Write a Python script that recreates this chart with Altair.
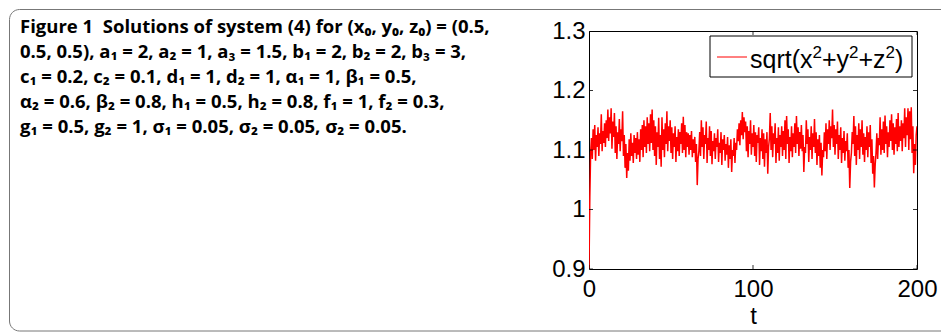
import altair as alt
import pandas as pd

norm_values = [
    0.900, 1.020, 1.095, 1.120, 1.085, 1.135, 1.100, 1.142, 1.082, 1.125, 1.105, 1.138, 1.090, 1.128, 1.110, 1.160, 1.098, 1.132, 1.112, 1.145,
    1.105, 1.150, 1.120, 1.168, 1.115, 1.155, 1.128, 1.170, 1.102, 1.148, 1.122, 1.162, 1.095, 1.140, 1.085, 1.130, 1.110, 1.152, 1.098, 1.135,
    1.115, 1.165, 1.090, 1.125, 1.070, 1.110, 1.053, 1.095, 1.065, 1.118, 1.082, 1.128, 1.090, 1.112, 1.078, 1.125, 1.095, 1.120, 1.085, 1.130,
    1.092, 1.118, 1.080, 1.135, 1.100, 1.142, 1.088, 1.150, 1.105, 1.140, 1.095, 1.155, 1.110, 1.145, 1.098, 1.160, 1.112, 1.168, 1.100, 1.150,
    1.090, 1.140, 1.075, 1.130, 1.105, 1.154, 1.085, 1.125, 1.072, 1.155, 1.100, 1.135, 1.088, 1.145, 1.110, 1.165, 1.098, 1.140, 1.115, 1.150,
    1.095, 1.138, 1.085, 1.128, 1.105, 1.140, 1.080, 1.122, 1.098, 1.135, 1.090, 1.130, 1.110, 1.145, 1.095, 1.156, 1.100, 1.142, 1.088, 1.130,
    1.105, 1.128, 1.092, 1.125, 1.100, 1.132, 1.088, 1.118, 1.095, 1.122, 1.080, 1.110, 1.041, 1.085, 1.098, 1.130, 1.090, 1.150, 1.105, 1.138,
    1.085, 1.125, 1.110, 1.148, 1.078, 1.120, 1.100, 1.140, 1.090, 1.132, 1.076, 1.115, 1.098, 1.128, 1.085, 1.120, 1.105, 1.135, 1.080, 1.112,
    1.095, 1.130, 1.075, 1.118, 1.100, 1.125, 1.082, 1.110, 1.092, 1.122, 1.070, 1.108, 1.085, 1.118, 1.063, 1.100, 1.090, 1.120, 1.078, 1.112,
    1.100, 1.135, 1.115, 1.145, 1.108, 1.150, 1.125, 1.164, 1.118, 1.155, 1.130, 1.148, 1.098, 1.140, 1.088, 1.132, 1.110, 1.150, 1.092, 1.128,
    1.105, 1.142, 1.090, 1.130, 1.080, 1.125, 1.112, 1.138, 1.075, 1.120, 1.098, 1.135, 1.085, 1.128, 1.072, 1.118, 1.095, 1.130, 1.060, 1.105,
    1.120, 1.162, 1.100, 1.140, 1.088, 1.128, 1.110, 1.145, 1.078, 1.120, 1.095, 1.138, 1.082, 1.125, 1.105, 1.140, 1.090, 1.132, 1.100, 1.150,
    1.085, 1.157, 1.110, 1.135, 1.078, 1.122, 1.098, 1.140, 1.088, 1.128, 1.105, 1.145, 1.095, 1.157, 1.110, 1.138, 1.090, 1.130, 1.102, 1.142,
    1.098, 1.125, 1.063, 1.105, 1.095, 1.150, 1.110, 1.135, 1.080, 1.122, 1.100, 1.140, 1.085, 1.128, 1.105, 1.152, 1.095, 1.130, 1.075, 1.118,
    1.090, 1.125, 1.070, 1.112, 1.057, 1.100, 1.088, 1.130, 1.098, 1.145, 1.085, 1.135, 1.110, 1.150, 1.100, 1.140, 1.120, 1.168, 1.105, 1.142,
    1.092, 1.135, 1.110, 1.148, 1.085, 1.125, 1.100, 1.138, 1.078, 1.120, 1.095, 1.132, 1.082, 1.115, 1.098, 1.128, 1.070, 1.100, 1.036, 1.080,
    1.095, 1.130, 1.110, 1.157, 1.090, 1.140, 1.075, 1.125, 1.100, 1.145, 1.085, 1.135, 1.105, 1.150, 1.092, 1.128, 1.080, 1.122, 1.100, 1.140,
    1.088, 1.130, 1.105, 1.142, 1.078, 1.118, 1.060, 1.090, 1.037, 1.075, 1.095, 1.128, 1.085, 1.120, 1.108, 1.155, 1.092, 1.135, 1.100, 1.148,
    1.095, 1.158, 1.110, 1.140, 1.088, 1.130, 1.105, 1.150, 1.115, 1.160, 1.100, 1.145, 1.092, 1.138, 1.110, 1.152, 1.098, 1.162, 1.105, 1.140,
    1.115, 1.150, 1.098, 1.145, 1.120, 1.170, 1.105, 1.155, 1.125, 1.170, 1.100, 1.165, 1.118, 1.172, 1.095, 1.140, 1.061, 1.110, 1.075, 1.125,
    1.140,
]
t_step = 0.5
t_values = [i * t_step for i in range(len(norm_values))]

x_ticks = [0, 100, 200]
y_ticks = [0.9, 1.0, 1.1, 1.2, 1.3]
x_domain = [0, 200]
y_domain = [0.9, 1.3]

# legend label pieces: (text, is_superscript)
legend_parts = [("sqrt(x", False), ("2", True), ("+y", False), ("2", True),
                ("+z", False), ("2", True), (")", False)]
caption_lines = [
    "Figure 1\u00a0\u00a0Solutions of system (4) for (x₀, y₀, z₀) = (0.5,",
    "0.5, 0.5), a₁ = 2, a₂ = 1, a₃ = 1.5, b₁ = 2, b₂ = 2, b₃ = 3,",
    "c₁ = 0.2, c₂ = 0.1, d₁ = 1, d₂ = 1, α₁ = 1, β₁ = 0.5,",
    "α₂ = 0.6, β₂ = 0.8, h₁ = 0.5, h₂ = 0.8, f₁ = 1, f₂ = 0.3,",
    "g₁ = 0.5, g₂ = 1, σ₁ = 0.05, σ₂ = 0.05, σ₂ = 0.05.",
]

# ---- layout ----
W, H = 328, 238
PAD_L, PAD_T = 581, 23
AX_FONT = "Liberation Sans"

df = pd.DataFrame({"t": t_values, "v": norm_values})
one = pd.DataFrame({"a": [0]})

X = alt.X("t:Q", scale=alt.Scale(domain=x_domain, nice=False),
          axis=alt.Axis(values=x_ticks, title="t", ticks=False, domain=False, grid=False,
                        labelFont=AX_FONT, labelFontSize=24, labelColor="black",
                        labelPadding=8, labelFlush=False,
                        titleFont=AX_FONT, titleFontSize=24, titleFontWeight="normal",
                        titleColor="black", titlePadding=3))
Y = alt.Y("v:Q", scale=alt.Scale(domain=y_domain, nice=False, zero=False),
          axis=alt.Axis(values=y_ticks, title=None, ticks=False, domain=False, grid=False,
                        format="~g", labelFont=AX_FONT, labelFontSize=24, labelColor="black",
                        labelPadding=4, labelFlush=False))

line = alt.Chart(df).mark_line(color="#ff0000", strokeWidth=1.5, clip=True).encode(x=X, y=Y)

xt = pd.DataFrame({"t": x_ticks})
yt = pd.DataFrame({"v": y_ticks})
tick_style = dict(color="black", thickness=1, size=8, clip=True, opacity=0.8)
ticks = [
    alt.Chart(xt).mark_tick(orient="vertical", **tick_style).encode(x=X, y=alt.value(H)),
    alt.Chart(xt).mark_tick(orient="vertical", **tick_style).encode(x=X, y=alt.value(0)),
    alt.Chart(yt).mark_tick(orient="horizontal", **tick_style).encode(y=Y, x=alt.value(0)),
    alt.Chart(yt).mark_tick(orient="horizontal", **tick_style).encode(y=Y, x=alt.value(W)),
]

# legend box (manual, MATLAB style)
leg_box = alt.Chart(one).mark_rect(fill="white", stroke="black", strokeWidth=1).encode(
    x=alt.value(121), x2=alt.value(323), y=alt.value(5), y2=alt.value(46))
leg_line = alt.Chart(one).mark_rule(color="#ff0000", strokeWidth=1).encode(
    x=alt.value(128), x2=alt.value(158), y=alt.value(26))

# Arial/Liberation Sans advance widths (em) for the legend glyphs
adv = {"s": .5, "q": .556, "r": .333, "t": .278, "(": .333, ")": .333, "x": .5,
       "y": .5, "z": .5, "+": .584, "2": .556}
MAIN_FS, SUP_FS = 25, 17
leg_layers = []
cx = 161.0
for txt, sup in legend_parts:
    fs = SUP_FS if sup else MAIN_FS
    leg_layers.append(
        alt.Chart(one).mark_text(align="left", baseline="alphabetic", font=AX_FONT,
                                 fontSize=fs, color="black").encode(
            x=alt.value(cx), y=alt.value(27 if sup else 37), text=alt.value(txt)))
    cx += sum(adv[c] for c in txt) * fs

# outer rounded border of the figure panel
border = alt.Chart(one).mark_rect(fillOpacity=0, stroke="#777777", strokeWidth=1,
                                  cornerRadius=10).encode(
    x=alt.value(9 - 8 - PAD_L + 0.5), x2=alt.value(500), y=alt.value(9 - 8 - PAD_T + 0.5),
    y2=alt.value(331 - 8 - PAD_T))

caption = []
for i, txt in enumerate(caption_lines):
    caption.append(
        alt.Chart(one).mark_text(align="left", baseline="alphabetic", font="Open Sans",
                                 fontSize=18.5, fontWeight="bold", color="black").encode(
            x=alt.value(20 - 8 - PAD_L), y=alt.value(33 - 8 - PAD_T + 25 * i),
            text=alt.value(txt)))

chart = alt.layer(border, *caption, line, *ticks, leg_box, leg_line, *leg_layers).properties(
    width=W, height=H,
    autosize=alt.AutoSizeParams(type="none"),
    padding={"left": PAD_L, "top": PAD_T, "right": 949 - 16 - PAD_L - W, "bottom": 334 - 8 - PAD_T - H},
).configure_view(stroke="black", strokeWidth=1)

chart.save("out.html", embed_options={"renderer": "svg", "actions": False})
